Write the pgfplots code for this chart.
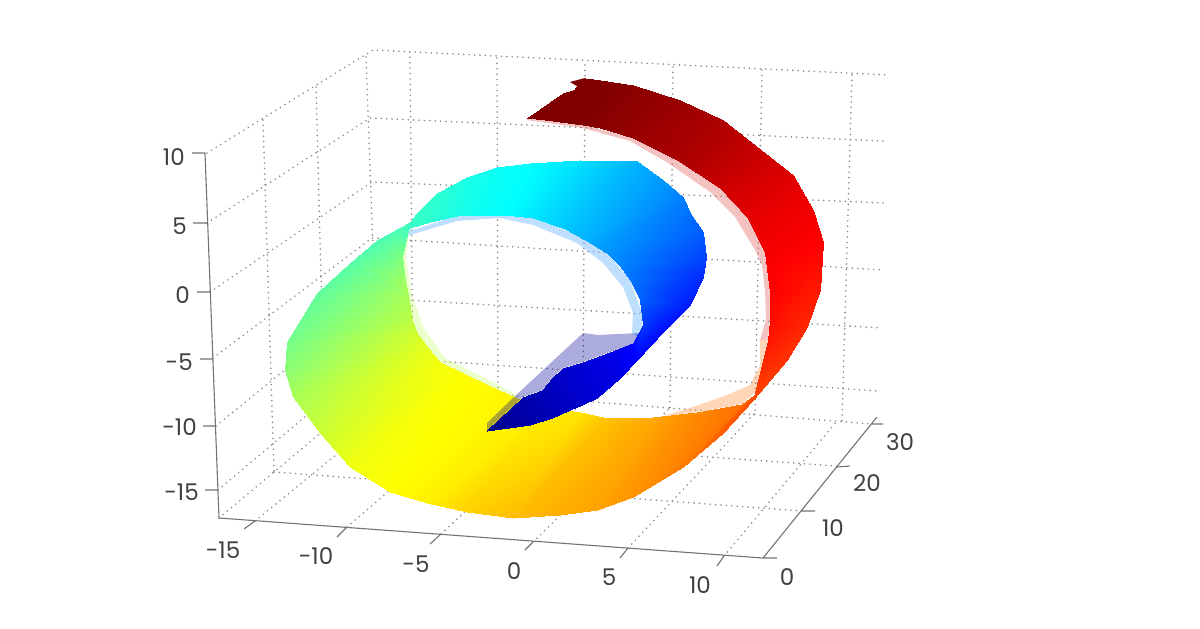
\documentclass[border=0pt]{standalone}
\usepackage{fontspec}
\setmainfont{Poppins}
\usepackage{pgfplots}
\pgfplotsset{compat=1.18}

\definecolor{gridc}{gray}{0.55}
\definecolor{axisc}{gray}{0.45}
\definecolor{labelc}{gray}{0.25}
\definecolor{fringeblue}{rgb}{0.5,0.75,1}
\definecolor{fringegreen}{rgb}{0.8,1,0.5}
\definecolor{fringered}{rgb}{0.9,0.4,0.4}
\definecolor{fringeorange}{rgb}{1,0.6,0.3}
\definecolor{endred}{rgb}{0.5,0,0}
\definecolor{backblue}{rgb}{0,0,0.6}

% perspective view: all columns are screen positions
% (x, y in reference pixels), t is the jet colour value of the surface
\pgfplotsset{
    dotgrid/.style={no marks, color=gridc, line width=1.8pt, line cap=round,
        dash pattern=on 0pt off 5.4pt, unbounded coords=jump},
    axline/.style={no marks, color=axisc, line width=1.1pt, unbounded coords=jump},
    strip/.style={surf, shader=interp, mesh/cols=2, point meta=\thisrow{t}},
    fringe/.style={no marks, draw=none, fill=#1},
}
\tikzset{tick text/.style={font=\fontsize{23}{28}\selectfont, text=labelc, inner sep=0pt}}

\begin{document}
\begin{tikzpicture}
\begin{axis}[
    width=1200pt, height=628pt, scale only axis,
    view={0}{90},
    xmin=0, xmax=1200, ymin=0, ymax=628,
    y dir=reverse,
    hide axis, clip=false,
    colormap/jet,
    point meta min=0, point meta max=1,
]
% keep the whole 1200x628 page
\path (axis cs:0,0,0) rectangle (axis cs:1200,628,0);

% dotted grid: left wall, back wall, floor
\addplot3[dotgrid] table[z expr=0] {
x y
207 153
373 50
888 75
nan nan
207 223
370 118
883 141
nan nan
210 292
372 182
885 203
nan nan
213 358
372 238
882 270
nan nan
216 426
373 298
882 328
nan nan
218 490
376 357
878 391
nan nan
263 120
274 472
nan nan
316 87
325 430
nan nan
366 57
378 385
nan nan
410 52
413 392
nan nan
497 58
498 397
nan nan
585 65
583 402
nan nan
673 67
670 408
nan nan
762 70
755 413
nan nan
852 75
842 421
nan nan
274 472
802 511
nan nan
325 430
837 466
nan nan
378 385
872 424
nan nan
219 518
378 385
nan nan
255 521
413 392
nan nan
347 527
498 397
nan nan
441 534
583 402
nan nan
533 542
670 408
nan nan
628 548
755 413
nan nan
724 556
837 421
};

% axis lines and tick marks
\addplot3[axline] table[z expr=0] {
x y
205 153
219 518
763 558
877 417
nan nan
192 153
205 153
nan nan
193 223
207 223
nan nan
197 292
210 292
nan nan
200 359
213 359
nan nan
203 426
216 426
nan nan
205 490
218 490
nan nan
255 521
244 529
nan nan
347 527
337 537
nan nan
441 534
430 544
nan nan
533 542
525 550
nan nan
628 548
620 558
nan nan
724 556
717 566
nan nan
763 558
777 558
nan nan
802 511
815 511
nan nan
837 467
850 466
nan nan
872 424
883 424
};

% paler back side showing along the inner edge
\addplot3[fringe=fringeblue, fill opacity=0.5] table[z expr=0] {
x y
403 233
457 216
500 215
533 218
577 235
607 253
630 280
642 313
642 340
632 333
633 313
623 287
603 263
577 243
533 225
500 218
457 221
407 236
} --cycle;
\addplot3[fringe=fringegreen, fill opacity=0.4] table[z expr=0] {
x y
403 233
400 257
407 293
417 333
440 362
483 383
517 398
515 394
485 378
445 358
423 327
412 295
406 260
408 238
} --cycle;
\addplot3[fringe=fringered, fill opacity=0.4] table[z expr=0] {
x y
527 118
583 125
633 138
677 160
720 188
747 217
765 253
770 293
770 320
768 340
760 340
766 320
765 290
762 265
755 250
735 217
710 192
668 163
630 141
583 128
527 120
} --cycle;
\addplot3[fringe=fringeorange, fill opacity=0.4] table[z expr=0] {
x y
768 340
765 383
742 404
697 412
660 417
690 408
727 395
750 385
760 365
760 340
} --cycle;

% outer part of the strip: green, yellow, orange, red
\addplot3[strip] table[z expr=0] {
x y t
410 222 0.44
403 233 0.44
377 240 0.45
402 257 0.50
350 263 0.46
405 280 0.53
317 293 0.47
408 295 0.54
287 342 0.49
412 320 0.56
285 370 0.51
417 333 0.58
293 397 0.54
428 348 0.60
320 433 0.575
440 362 0.615
350 467 0.61
465 374 0.625
390 492 0.625
490 386 0.63
427 503 0.64
517 398 0.635
467 512 0.67
545 407 0.64
513 518 0.69
580 412 0.65
560 515 0.705
607 418 0.685
597 510 0.715
653 417 0.71
633 497 0.73
697 412 0.74
683 467 0.755
742 404 0.765
723 433 0.785
758 392 0.80
753 400 0.805
765 383 0.82
787 360 0.825
768 340 0.855
807 327 0.835
770 320 0.865
820 290 0.85
770 293 0.875
823 242 0.875
765 253 0.885
813 210 0.885
747 217 0.90
793 175 0.905
720 188 0.925
723 120 0.955
677 160 0.96
680 100 0.975
633 138 0.975
633 85 0.99
600 128 0.99
600 80 1
583 125 1
585 78 1
560 122 1
580 88 1
545 120 1
563 93 1
527 118 1
};
\addplot3[fringe=endred] table[z expr=0] {
x y
585 78
570 82
580 88
} --cycle;

% see-through back side at the inner end
\addplot3[fringe=backblue, fill opacity=0.33] table[z expr=0] {
x y
640 333
598 335
583 333
513 398
487 423
487 430
523 397
542 390
552 378
563 368
583 362
610 352
642 342
} --cycle;

% inner part of the strip: dark blue, blue, cyan
\addplot3[strip] table[z expr=0] {
x y t
487 431 0.01
487 430 0.01
530 425 0.04
523 397 0.045
552 418 0.055
542 390 0.055
570 410 0.065
552 378 0.065
582 405 0.075
563 368 0.075
597 398 0.085
583 362 0.085
620 378 0.10
610 352 0.10
637 360 0.125
633 343 0.13
663 332 0.135
643 325 0.18
690 305 0.15
640 300 0.22
703 277 0.165
630 280 0.24
706 257 0.19
620 266 0.255
703 232 0.215
607 253 0.27
690 213 0.235
598 248 0.28
683 197 0.25
594 245 0.285
663 180 0.275
585 240 0.30
637 161 0.30
565 229 0.32
580 160 0.345
533 218 0.35
530 163 0.375
505 215 0.375
497 167 0.385
480 215 0.385
467 177 0.40
457 216 0.40
437 193 0.42
430 222 0.42
417 213 0.43
410 228 0.43
410 222 0.44
403 233 0.44
};

% tick labels
\node[tick text, anchor=east] at (axis cs:185,157,0) {10};
\node[tick text, anchor=east] at (axis cs:187,226,0) {5};
\node[tick text, anchor=east] at (axis cs:190,295,0) {0};
\node[tick text, anchor=east] at (axis cs:193,362,0) {-5};
\node[tick text, anchor=east] at (axis cs:197,427,0) {-10};
\node[tick text, anchor=east] at (axis cs:199,492,0) {-15};
\node[tick text] at (axis cs:223,550,0) {-15};
\node[tick text] at (axis cs:316,556,0) {-10};
\node[tick text] at (axis cs:416,564,0) {-5};
\node[tick text] at (axis cs:514,571,0) {0};
\node[tick text] at (axis cs:609,577,0) {5};
\node[tick text] at (axis cs:700,585,0) {10};
\node[tick text] at (axis cs:787,577,0) {0};
\node[tick text] at (axis cs:833,528,0) {10};
\node[tick text] at (axis cs:867,483,0) {20};
\node[tick text] at (axis cs:900,442,0) {30};

\end{axis}
\end{tikzpicture}
\end{document}
